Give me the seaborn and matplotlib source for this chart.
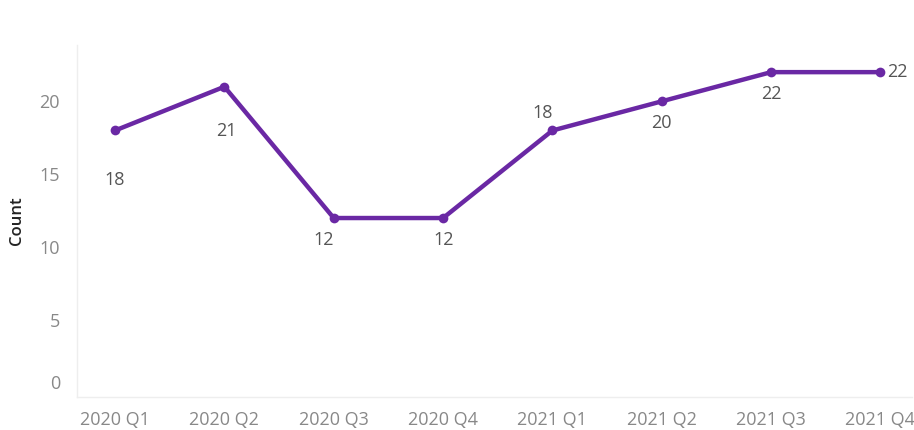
import numpy as np
import pandas as pd
import seaborn as sns
import matplotlib.pyplot as plt
import matplotlib.transforms as mtransforms
from matplotlib.ticker import MultipleLocator

quarters = ["2020 Q1", "2020 Q2", "2020 Q3", "2020 Q4",
            "2021 Q1", "2021 Q2", "2021 Q3", "2021 Q4"]
counts = [18, 21, 12, 12, 18, 20, 22, 22]
# label offsets in pixels (dx, dy) relative to each point, as Tableau placed them
label_dx = [0, 2, -10, 1, -10, 0, 0, 7]
label_dy = [-50, -44, -22, -22, 17, -22, -22, 0]

df = pd.DataFrame({"quarter": quarters, "count": counts})
df["x"] = np.arange(len(quarters))

sns.set_theme(style="white")
plt.rcParams["font.family"] = ["Open Sans", "DejaVu Sans"]

purple = "#6a28a4"

fig = plt.figure(figsize=(9.14, 4.30), dpi=100)
ax = fig.add_axes([0.084, 0.077, 0.914, 0.818])

sns.lineplot(data=df, x="x", y="count", ax=ax, color=purple, linewidth=3.2,
             marker="o", markersize=7, markeredgewidth=0)

for i, (x, y) in enumerate(zip(df["x"], df["count"])):
    ha = "left" if i == len(quarters) - 1 else "center"
    ax.annotate(str(y), (x, y), xytext=(label_dx[i], label_dy[i]),
                textcoords="offset pixels", ha=ha, va="center",
                fontsize=13, color="#555555")

ax.set_xlim(-0.35, 7.29)
ax.set_ylim(-0.26, 23.85)
ax.set_xticks(df["x"])
ax.set_xticklabels(quarters)
ax.xaxis.set_minor_locator(MultipleLocator(1 / 3))
ax.set_yticks([0, 5, 10, 15, 20])

ax.tick_params(axis="both", which="both", colors="#e6e6e6", labelcolor="#888888",
               labelsize=13, length=5, width=1)
ax.tick_params(axis="x", which="major", pad=5)
ax.tick_params(axis="y", pad=7)

# Tableau nudges the zero label up off the axis line
zero_lbl = ax.get_yticklabels()[0]
zero_lbl.set_transform(zero_lbl.get_transform() +
                       mtransforms.ScaledTranslation(0, 0.11, fig.dpi_scale_trans))

for side in ["top", "right"]:
    ax.spines[side].set_visible(False)
for side in ["left", "bottom"]:
    ax.spines[side].set_color("#eeeeee")
    ax.spines[side].set_linewidth(1)

ax.set_xlabel("")
ax.set_ylabel("Count", fontsize=12, color="#222222", fontweight="semibold")
ax.yaxis.set_label_coords(-0.062, 0.5)

fig.savefig("out.png", dpi=100)
